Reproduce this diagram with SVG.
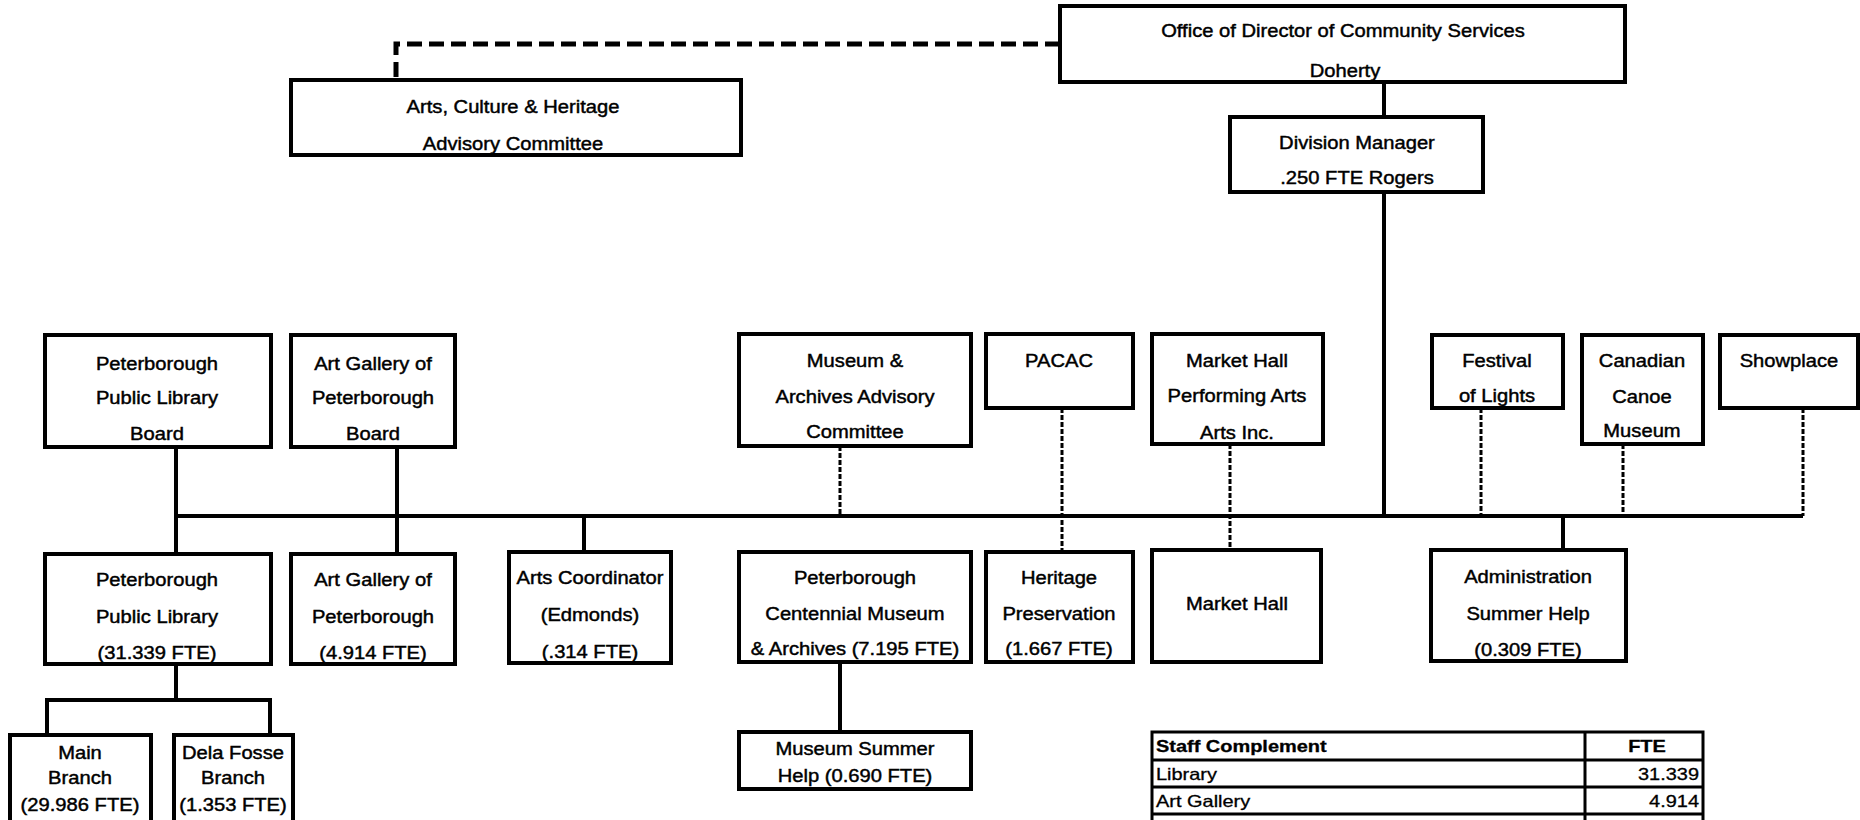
<svg xmlns="http://www.w3.org/2000/svg" width="1860" height="820" viewBox="0 0 1860 820">
<style>
.box{fill:#fff;stroke:#000;stroke-width:4}
.solid{fill:none;stroke:#000;stroke-width:4}
.dash{fill:none;stroke:#000;stroke-width:3;stroke-dasharray:5 2}
.dashbig{fill:none;stroke:#000;stroke-width:5;stroke-dasharray:15 7}
.t{font-family:"Liberation Sans",Arial,sans-serif;font-size:18.5px;text-anchor:middle;dominant-baseline:central;fill:#000;stroke:#000;stroke-width:0.45;transform-box:fill-box;transform-origin:center;transform:scaleX(1.09)}
.tb{font-family:"Liberation Sans",Arial,sans-serif;font-size:16.5px;fill:#000;stroke:#000;stroke-width:0.3;dominant-baseline:central}
.tl{transform-box:fill-box;transform-origin:left center;transform:scaleX(1.21)}
.tr{text-anchor:end;transform-box:fill-box;transform-origin:right center;transform:scaleX(1.21)}
.tc{text-anchor:middle;transform-box:fill-box;transform-origin:center;transform:scaleX(1.21)}
.grid{fill:none;stroke:#000;stroke-width:3}
</style>
<rect width="1860" height="820" fill="#fff"/>
<g id="connectors">
  <path class="dashbig" d="M1060 44 H396 V80"/>
  <path class="solid" d="M1384 82 V117 M1384 192 V516"/>
  <path class="solid" d="M176 516 H1803"/>
  <path class="solid" d="M176 447 V516 M397 447 V516"/>
  <path class="dash" d="M840 446 V516 M1481 408 V516 M1623 444 V516 M1803 408 V516"/>
  <path class="dash" d="M1062 408 V552 M1230 444 V550"/>
  <path class="solid" d="M176 516 V554 M397 516 V554 M584 516 V552 M1563 516 V550"/>
  <path class="solid" d="M176 664 V700 M47 735 V700 H270 V735"/>
  <path class="solid" d="M840 662 V732"/>
</g>
<g id="office">
  <rect class="box" x="1060" y="6" width="565" height="76"/>
  <text class="t" x="1343" y="30">Office of Director of Community Services</text>
  <text class="t" x="1345" y="70">Doherty</text>
</g>
<g id="ach">
  <rect class="box" x="291" y="80" width="450" height="75"/>
  <text class="t" x="513" y="106">Arts,  Culture &amp; Heritage</text>
  <text class="t" x="513" y="143">Advisory Committee</text>
</g>
<g id="divmgr">
  <rect class="box" x="1230" y="117" width="253" height="75"/>
  <text class="t" x="1357" y="142">Division Manager</text>
  <text class="t" x="1357" y="177">.250 FTE Rogers</text>
</g>
<g id="pplboard">
  <rect class="box" x="45" y="335" width="226" height="112"/>
  <text class="t" x="157" y="363">Peterborough</text>
  <text class="t" x="157" y="397">Public Library</text>
  <text class="t" x="157" y="433">Board</text>
</g>
<g id="agboard">
  <rect class="box" x="291" y="335" width="164" height="112"/>
  <text class="t" x="373" y="363">Art Gallery of</text>
  <text class="t" x="373" y="397">Peterborough</text>
  <text class="t" x="373" y="433">Board</text>
</g>
<g id="maac">
  <rect class="box" x="739" y="334" width="232" height="112"/>
  <text class="t" x="855" y="360">Museum &amp;</text>
  <text class="t" x="855" y="396">Archives Advisory</text>
  <text class="t" x="855" y="431">Committee</text>
</g>
<g id="pacac">
  <rect class="box" x="986" y="334" width="147" height="74"/>
  <text class="t" x="1059" y="360">PACAC</text>
</g>
<g id="mhpa">
  <rect class="box" x="1152" y="334" width="171" height="110"/>
  <text class="t" x="1237" y="360">Market Hall</text>
  <text class="t" x="1237" y="395">Performing Arts</text>
  <text class="t" x="1237" y="432">Arts Inc.</text>
</g>
<g id="festival">
  <rect class="box" x="1432" y="335" width="131" height="73"/>
  <text class="t" x="1497" y="360">Festival</text>
  <text class="t" x="1497" y="395">of Lights</text>
</g>
<g id="canoe">
  <rect class="box" x="1582" y="335" width="121" height="109"/>
  <text class="t" x="1642" y="360">Canadian</text>
  <text class="t" x="1642" y="396">Canoe</text>
  <text class="t" x="1642" y="430">Museum</text>
</g>
<g id="showplace">
  <rect class="box" x="1720" y="335" width="138" height="73"/>
  <text class="t" x="1789" y="360">Showplace</text>
</g>
<g id="ppl">
  <rect class="box" x="45" y="554" width="226" height="110"/>
  <text class="t" x="157" y="579">Peterborough</text>
  <text class="t" x="157" y="616">Public Library</text>
  <text class="t" x="157" y="652">(31.339 FTE)</text>
</g>
<g id="ag">
  <rect class="box" x="291" y="554" width="164" height="110"/>
  <text class="t" x="373" y="579">Art Gallery of</text>
  <text class="t" x="373" y="616">Peterborough</text>
  <text class="t" x="373" y="652">(4.914 FTE)</text>
</g>
<g id="artscoord">
  <rect class="box" x="509" y="552" width="162" height="111"/>
  <text class="t" x="590" y="577">Arts Coordinator</text>
  <text class="t" x="590" y="614">(Edmonds)</text>
  <text class="t" x="590" y="651">(.314 FTE)</text>
</g>
<g id="pcma">
  <rect class="box" x="739" y="552" width="232" height="110"/>
  <text class="t" x="855" y="577">Peterborough</text>
  <text class="t" x="855" y="613">Centennial Museum</text>
  <text class="t" x="855" y="648">&amp; Archives (7.195 FTE)</text>
</g>
<g id="heritage">
  <rect class="box" x="986" y="552" width="147" height="110"/>
  <text class="t" x="1059" y="577">Heritage</text>
  <text class="t" x="1059" y="613">Preservation</text>
  <text class="t" x="1059" y="648">(1.667 FTE)</text>
</g>
<g id="markethall">
  <rect class="box" x="1152" y="550" width="169" height="112"/>
  <text class="t" x="1237" y="603">Market Hall</text>
</g>
<g id="admin">
  <rect class="box" x="1431" y="550" width="195" height="111"/>
  <text class="t" x="1528" y="576">Administration</text>
  <text class="t" x="1528" y="613">Summer Help</text>
  <text class="t" x="1528" y="649">(0.309 FTE)</text>
</g>
<g id="msh">
  <rect class="box" x="739" y="732" width="232" height="57"/>
  <text class="t" x="855" y="748">Museum Summer</text>
  <text class="t" x="855" y="775">Help (0.690 FTE)</text>
</g>
<g id="mainbranch">
  <rect class="box" x="10" y="735" width="141" height="95"/>
  <text class="t" x="80" y="752">Main</text>
  <text class="t" x="80" y="777">Branch</text>
  <text class="t" x="80" y="804">(29.986 FTE)</text>
</g>
<g id="delafosse">
  <rect class="box" x="174" y="735" width="119" height="95"/>
  <text class="t" x="233" y="752">Dela Fosse</text>
  <text class="t" x="233" y="777">Branch</text>
  <text class="t" x="233" y="804">(1.353 FTE)</text>
</g>
<g id="staff-table">
  <path class="grid" d="M1152 830 V732 H1703 V830 M1585 732 V830 M1152 760 H1703 M1152 787 H1703 M1152 814 H1703"/>
  <text class="tb tl" x="1156" y="746" font-weight="bold">Staff Complement</text>
  <text class="tb tc" x="1647" y="746" font-weight="bold">FTE</text>
  <text class="tb tl" x="1156" y="774">Library</text>
  <text class="tb tr" x="1699" y="774">31.339</text>
  <text class="tb tl" x="1156" y="801">Art Gallery</text>
  <text class="tb tr" x="1699" y="801">4.914</text>
</g>
</svg>
